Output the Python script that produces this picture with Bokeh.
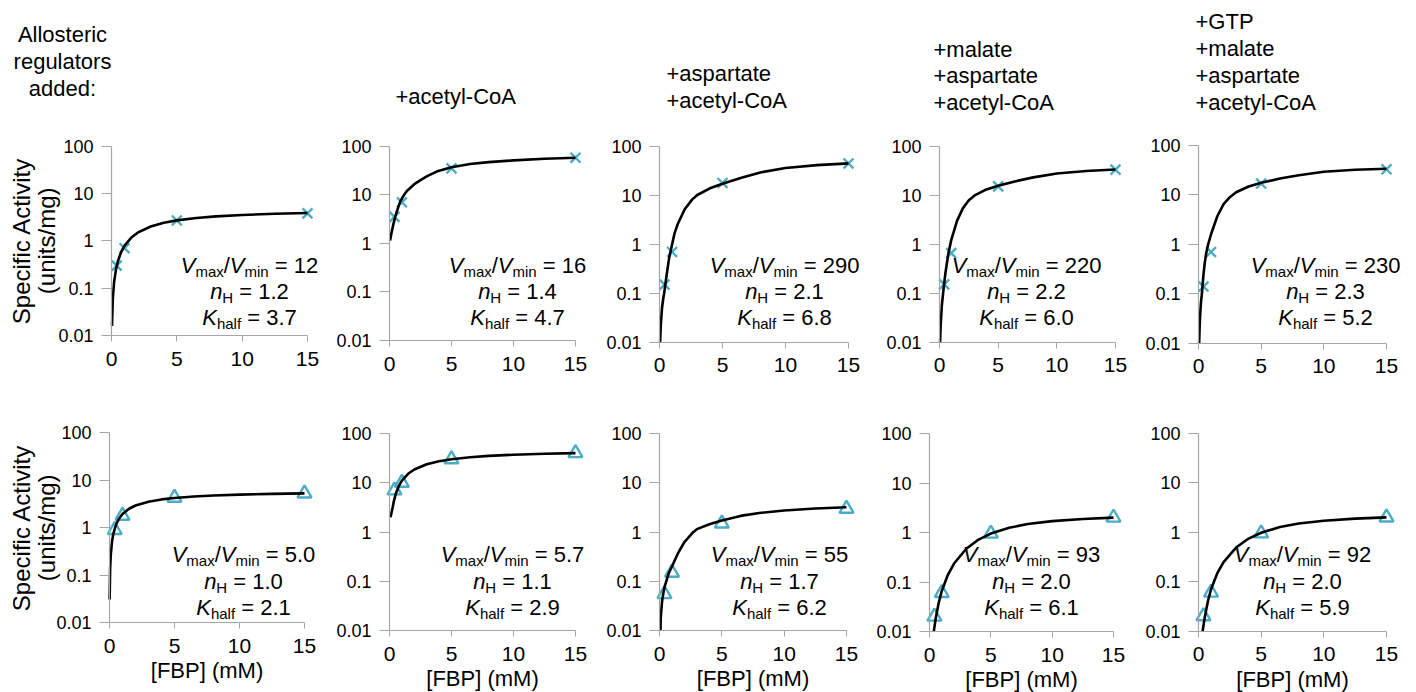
import math
from bokeh.plotting import figure
from bokeh.layouts import column, row
from bokeh.models import Range1d, FixedTicker, CustomJSTickFormatter, Label
from bokeh.embed import file_html
from bokeh.resources import INLINE

# ---------------- data ----------------
fbp_points = [0.4, 1.0, 5.0, 15.0]
x_ticks = [0, 5, 10, 15]
y_ticks = [0.01, 0.1, 1, 10, 100]

titles = [
    ["Allosteric", "regulators", "added:"],
    ["+acetyl-CoA"],
    ["+aspartate", "+acetyl-CoA"],
    ["+malate", "+aspartate", "+acetyl-CoA"],
    ["+GTP", "+malate", "+aspartate", "+acetyl-CoA"],
]

# row 1 (crosses)
r1_pts_y = [
    [0.3, 0.7, 2.7, 3.8],
    [3.5, 7.0, 35, 58],
    [0.15, 0.7, 18, 45],
    [0.15, 0.65, 15, 33],
    [0.14, 0.7, 17, 33],
]
r1_curve_x = [
    [0.04, 0.1, 0.2, 0.35, 0.5, 0.75, 1, 1.5, 2, 3, 4, 5, 6.5, 8, 10, 12.5, 15],
    [0.05, 0.15, 0.3, 0.46, 0.6, 0.86, 1.1, 1.4, 2, 2.5, 3, 3.8, 5, 6.5, 8, 10, 12.5, 15],
    [0.05, 0.1, 0.2, 0.3, 0.37, 0.5, 0.75, 1, 1.2, 1.45, 2, 2.6, 3, 4, 5, 6.5, 8, 10, 12.5, 15],
    [0.05, 0.1, 0.2, 0.3, 0.4, 0.5, 0.75, 1, 1.5, 2, 2.5, 3, 4, 5, 6.5, 8, 10, 12.5, 15],
    [0.05, 0.1, 0.15, 0.2, 0.27, 0.4, 0.5, 0.6, 0.77, 1, 1.5, 2, 2.5, 3, 4, 5, 6.5, 8, 10, 12.5, 15],
]
r1_curve_y = [
    [0.016, 0.06, 0.135, 0.256, 0.38, 0.59, 0.79, 1.16, 1.49, 2.01, 2.41, 2.71, 3.05, 3.29, 3.53, 3.73, 3.88],
    [1.15, 1.6, 2.4, 3.5, 4.6, 7.2, 9.3, 12, 16.5, 20, 24, 30, 37, 43, 47, 51, 55, 58],
    [0.01, 0.022, 0.05, 0.079, 0.1, 0.178, 0.5, 1.0, 1.7, 2.6, 5.2, 8.3, 10.2, 14.0, 17.4, 22.9, 29.5, 36.3, 41.7, 45.2],
    [0.01, 0.022, 0.056, 0.095, 0.158, 0.25, 0.63, 1.2, 3.0, 5.4, 7.8, 9.8, 13.0, 15.5, 19.1, 22.9, 27.5, 30.9, 33.1],
    [0.01, 0.025, 0.045, 0.068, 0.1, 0.25, 0.42, 0.63, 1.0, 1.6, 3.7, 6.5, 9.0, 11.3, 14.8, 17.6, 21.4, 25.1, 29.5, 32.4, 33.9],
]
r1_ratio = ["12", "16", "290", "220", "230"]
r1_nh = ["1.2", "1.4", "2.1", "2.2", "2.3"]
r1_khalf = ["3.7", "4.7", "6.8", "6.0", "5.2"]

# row 2 (triangles)
r2_pts_y = [
    [0.9, 1.8, 4.3, 5.3],
    [7.0, 10, 30, 40],
    [0.055, 0.15, 1.5, 3.0],
    [0.02, 0.06, 0.95, 2.0],
    [0.02, 0.06, 0.95, 2.0],
]
r2_curve_x = [
    [0.011, 0.05, 0.1, 0.2, 0.3, 0.5, 0.75, 1, 1.5, 2, 3, 4, 5, 6.5, 8, 10, 12.5, 15],
    [0.08, 0.25, 0.35, 0.5, 0.75, 1, 1.5, 2, 3, 4, 5, 6.5, 8, 10, 12.5, 15],
    [0.08, 0.1, 0.2, 0.3, 0.4, 0.54, 0.75, 1, 1.5, 2, 2.7, 3, 4, 5, 6.5, 8, 10, 12.5, 15],
    [0.35, 0.5, 0.75, 1, 1.5, 2, 3, 4, 5, 6.5, 8, 10, 12.5, 15],
    [0.33, 0.5, 0.75, 1, 1.5, 2, 3, 4, 5, 6.5, 8, 10, 12.5, 15],
]
r2_curve_y = [
    [0.031, 0.14, 0.275, 0.525, 0.755, 1.16, 1.59, 1.95, 2.52, 2.95, 3.55, 3.96, 4.25, 4.57, 4.78, 4.99, 5.17, 5.3],
    [2.0, 3.1, 4.2, 5.89, 8.59, 11.0, 15.2, 18.6, 23.7, 27.4, 30.1, 33.0, 35.1, 37.1, 38.8, 40.0],
    [0.01, 0.018, 0.038, 0.056, 0.076, 0.1, 0.148, 0.2, 0.38, 0.63, 1.0, 1.15, 1.45, 1.72, 2.14, 2.45, 2.75, 3.02, 3.2],
    [0.01, 0.018, 0.038, 0.066, 0.14, 0.236, 0.47, 0.72, 0.95, 1.25, 1.48, 1.70, 1.88, 2.0],
    [0.01, 0.019, 0.04, 0.07, 0.148, 0.248, 0.49, 0.745, 0.975, 1.28, 1.50, 1.71, 1.89, 2.0],
]
r2_ratio = ["5.0", "5.7", "55", "93", "92"]
r2_nh = ["1.0", "1.1", "1.7", "2.0", "2.0"]
r2_khalf = ["2.1", "2.9", "6.2", "6.1", "5.9"]

x_label = "[FBP] (mM)"
y_label_lines = ["Specific Activity", "(units/mg)"]

# ---------------- style / layout ----------------
FONT = "Liberation Sans"
TEAL = "#4BACC6"
GREY = "#A6A6A6"
W_TOTAL = 1416

rows_layout = [
    dict(frame_left=[111, 389, 659, 939, 1198], axis_w=[196, 186, 189, 176, 188],
         ax_top=[145.7, 145.7, 146, 145.5, 145], ax_bot=[335, 340, 341.7, 341.5, 342.7],
         fig_start=[0, 329, 599, 879, 1138], fig_top=0, fig_bottom=385,
         ann_cx=[138, 128, 125, 87, 127], ann_y=[265, 291, 317]),
    dict(frame_left=[109, 389, 659, 929, 1198], axis_w=[195, 186, 187, 184, 188],
         ax_top=[432.3, 433, 433.3, 433, 433], ax_bot=[622.3, 630, 630, 631, 630.5],
         fig_start=[0, 329, 599, 869, 1138], fig_top=385, fig_bottom=692,
         ann_cx=[134, 123, 120, 102, 104], ann_y=[554, 580.5, 607]),
]

# title placement: (align, x_abs, cap-centre y_abs)
title_place = [
    ("center", 62, [33.5, 60.5, 87.5]),
    ("left", 395, [96]),
    ("left", 666, [72.5, 100]),
    ("left", 933, [49, 75, 102]),
    ("left", 1195, [21, 48, 75, 102]),
]

ARIAL = {' ': 278, '=': 584, '.': 278, '/': 278, 'a': 556, 'm': 833, 'x': 500,
         'i': 222, 'n': 556, 'h': 556, 'l': 222, 'f': 278, 'H': 722, 'V': 667, 'K': 667}
for d in "0123456789":
    ARIAL[d] = 556


def tw(s, size):
    return sum(ARIAL.get(c, 556) for c in s) * size / 1000.0


def add_text(p, x, y, text, size, style="normal", align="left", angle=0.0):
    p.add_layout(Label(x=x, y=y, x_units="screen", y_units="screen", text=text,
                       text_font=FONT, text_font_size=f"{size}px", text_font_style=style,
                       text_color="black", text_align=align, text_baseline="middle",
                       angle=angle))


def add_rich_line(p, cx, y, pieces):
    total = sum(tw(t, s) + extra for t, s, st, dy, extra in pieces)
    x = cx - total / 2.0
    for t, s, st, dy, extra in pieces:
        add_text(p, x + extra, y + dy, t, s, st)
        x += tw(t, s) + extra


BIG, SUB, SUBDY = 22, 15, -6
SP = tw(" ", BIG)


def make_panel(r, c, pts_y, cx_list, cy_list, ratio, nh, kh, marker):
    L = rows_layout[r]
    fl, aw, fs = L["frame_left"][c], L["axis_w"][c], L["fig_start"][c]
    fe = L["fig_start"][c + 1] if c < 4 else W_TOTAL
    ft, fb = L["fig_top"], L["fig_bottom"]
    top_axis, bot_axis = L["ax_top"][c], L["ax_bot"][c]
    fig_w, fig_h = fe - fs, fb - ft
    ppd = (bot_axis - top_axis) / 4.0

    sx = 15.0 / aw
    x0 = (fs - fl) * sx
    x1 = (fe - fl) * sx
    ly1 = 2 + (top_axis - ft) / ppd
    ly0 = -2 - (fb - bot_axis) / ppd

    p = figure(x_range=Range1d(x0, x1), y_range=Range1d(10 ** ly0, 10 ** ly1), y_axis_type="log",
               frame_width=fig_w, frame_height=fig_h, min_border=0,
               min_border_left=0, min_border_right=0, min_border_top=0, min_border_bottom=0,
               title=None, toolbar_location=None, output_backend="svg")
    p.outline_line_color = None
    p.xgrid.visible = False
    p.ygrid.visible = False
    p.background_fill_color = "white"
    p.border_fill_color = "white"

    xa = p.xaxis[0]
    xa.fixed_location = 0.01
    xa.ticker = FixedTicker(ticks=x_ticks)
    xa.bounds = (0, 15)
    xa.axis_line_color = GREY
    xa.axis_line_width = 1.2
    xa.major_tick_line_color = GREY
    xa.major_tick_out = 6
    xa.major_tick_in = 0
    xa.minor_tick_line_color = None
    xa.major_label_text_font = FONT
    xa.major_label_text_font_size = "21px"
    xa.major_label_text_color = "black"
    xa.major_label_standoff = 10

    ya = p.yaxis[0]
    ya.fixed_location = 0
    ya.ticker = FixedTicker(ticks=y_ticks)
    ya.formatter = CustomJSTickFormatter(code="return tick.toString();")
    ya.bounds = (0.01, 100)
    ya.axis_line_color = GREY
    ya.axis_line_width = 1.2
    ya.major_tick_line_color = GREY
    ya.major_tick_out = 10
    ya.major_tick_in = 0
    ya.minor_tick_line_color = None
    ya.major_label_text_font = FONT
    ya.major_label_text_font_size = "18px"
    ya.major_label_text_color = "black"
    ya.major_label_standoff = 8

    if marker == "x":
        p.scatter(fbp_points, pts_y, marker="x", size=14, line_color=TEAL, line_width=2.4)
    else:
        p.scatter(fbp_points, pts_y, marker="triangle", size=14, line_color=TEAL,
                  fill_color=None, line_width=2.4)
    p.line(cx_list, cy_list, line_color="black", line_width=2.6)

    def SX(abs_x):
        return abs_x - fs

    def SY(abs_y):
        return fb - abs_y

    acx = SX(fl + L["ann_cx"][c])
    ya0, ya1, ya2 = [SY(v) for v in L["ann_y"]]
    add_rich_line(p, acx, ya0, [
        ("V", BIG, "italic", 0, 0), ("max", SUB, "normal", SUBDY, 0),
        ("/", BIG, "normal", 0, 0), ("V", BIG, "italic", 0, 0),
        ("min", SUB, "normal", SUBDY, 0), ("= " + ratio, BIG, "normal", 0, SP)])
    add_rich_line(p, acx, ya1, [
        ("n", BIG, "italic", 0, 0), ("H", SUB, "normal", SUBDY, 0),
        ("= " + nh, BIG, "normal", 0, SP)])
    add_rich_line(p, acx, ya2, [
        ("K", BIG, "italic", 0, 0), ("half", SUB, "normal", SUBDY, 0),
        ("= " + kh, BIG, "normal", 0, SP)])

    if r == 0:
        align, xabs, ys = title_place[c]
        for line, yv in zip(titles[c], ys):
            add_text(p, SX(xabs), SY(yv), line, 22, "normal", align)

    if c == 0:
        ymid = SY((top_axis + bot_axis) / 2.0)
        add_text(p, SX(21), ymid, y_label_lines[0], 24, "normal", "center", math.pi / 2)
        add_text(p, SX(46), ymid, y_label_lines[1], 24, "normal", "center", math.pi / 2)

    if r == 1:
        add_text(p, SX(fl + aw / 2.0), SY(bot_axis + 48), x_label, 22, "normal", "center")
    return p


row1 = [make_panel(0, c, r1_pts_y[c], r1_curve_x[c], r1_curve_y[c],
                   r1_ratio[c], r1_nh[c], r1_khalf[c], "x") for c in range(5)]
row2 = [make_panel(1, c, r2_pts_y[c], r2_curve_x[c], r2_curve_y[c],
                   r2_ratio[c], r2_nh[c], r2_khalf[c], "triangle") for c in range(5)]

layout = column(row(*row1, spacing=0), row(*row2, spacing=0), spacing=0)

open("out.html", "w").write(file_html(layout, INLINE))
